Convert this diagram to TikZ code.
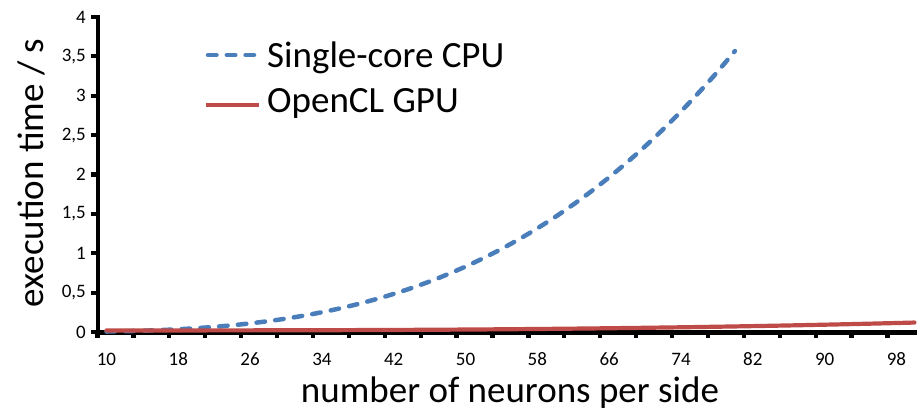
\documentclass[tikz,border=0pt]{standalone}
\usepackage{fontspec}
\setmainfont{Carlito}
\definecolor{cpublue}{HTML}{4A7EBB}
\definecolor{gpured}{HTML}{BE4B48}
\begin{document}
\begin{tikzpicture}[x=1pt,y=-1pt,
  axisline/.style={line width=4.6pt,black},
  tickmark/.style={line width=4.2pt,black},
  ticklabel/.style={font=\fontsize{19}{22}\selectfont,inner sep=0pt},
  titlelabel/.style={font=\fontsize{37}{42}\selectfont,inner sep=0pt},
  legendlabel/.style={font=\fontsize{37}{40}\selectfont,inner sep=0pt,anchor=base west},
  cpuline/.style={line width=4.5pt,cpublue,line cap=round,dash pattern=on 8.5pt off 10.3pt},
  gpuline/.style={line width=4.2pt,gpured,line cap=round},
  % value -> pixel maps
  declare function={px(\v)=97.5+(\v-9)*8.977; py(\t)=332-78.75*\t;
    cpu(\v)=3.54*(\v/79.8)^3.1; gpu(\v)=0.02+0.1*((\v-10)/90)^2.7;}
]
\useasboundingbox (0,0) rectangle (919,410);

% axes
\coordinate (ytop) at (98,15);
\coordinate (origin) at (98,332.6);
\coordinate (xend) at (917,332.6);
\draw[axisline] (ytop) -- (98,334.9);
\draw[axisline] (95.7,332.6) -- (xend);

% y ticks and labels
\foreach \t/\lab [count=\i] in {0/0,0.5/{0,5},1/1,1.5/{1,5},2/2,2.5/{2,5},3/3,3.5/{3,5},4/4}{
  \coordinate (yt\i) at (98,{py(\t)});
  \draw[tickmark] (yt\i) -- ++(-7,0);
  \node[ticklabel,anchor=east] (ylab\i) at (86,{py(\t)}) {\lab};
}

% x ticks (between categories) and labels
\foreach \k in {0,...,22}{
  \coordinate (xt\k) at ({97.5+35.908*\k},332.6);
  \draw[tickmark] (xt\k) -- ++(0,5);
}
\foreach \v in {10,18,...,98}{
  \node[ticklabel] (xlab\v) at ({px(\v)},359) {\v};
}

% axis titles
\node[titlelabel,anchor=base] (xtitle) at (510,402) {number of neurons per side};
\node[titlelabel,anchor=base,rotate=90] (ytitle) at (43,173) {execution time / s};

% data series
\draw[cpuline] plot[domain=10:80,samples=36,smooth] ({px(\x)},{py(cpu(\x))});
\draw[gpuline] plot[domain=10:100,samples=46,smooth] ({px(\x)},{py(gpu(\x))});

% legend
\coordinate (lc1) at (208,55);
\coordinate (lc2) at (254,55);
\coordinate (lg1) at (206,105);
\coordinate (lg2) at (259,105);
\draw[cpuline] (lc1) -- (lc2);
\draw[gpuline,line cap=butt] (lg1) -- (lg2);
\node[legendlabel] (lcpu) at (267,67) {Single-core CPU};
\node[legendlabel] (lgpu) at (267,112) {OpenCL GPU};
\end{tikzpicture}
\end{document}
